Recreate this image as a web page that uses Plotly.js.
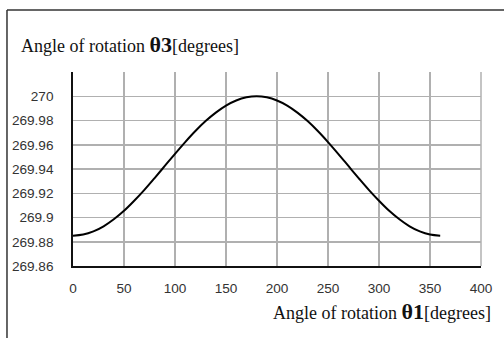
<!DOCTYPE html>
<html><head><meta charset="utf-8">
<script src="https://cdn.plot.ly/plotly-3.0.1.min.js"></script>
<style>html,body{margin:0;padding:0;background:#fff;}#chart{width:504px;height:338px;}</style>
</head><body><div id="chart"></div>
<script>
const theta1 = [0,10,20,30,40,50,60,70,80,90,100,110,120,130,140,150,160,170,180,190,200,210,220,230,240,250,260,270,280,290,300,310,320,330,340,350,360];
const theta3 = [269.885,269.8859,269.8885,269.8927,269.8985,269.9055,269.9138,269.9228,269.9325,269.9425,269.9525,269.9622,269.9713,269.9795,269.9865,269.9923,269.9965,269.9991,270.0,269.9991,269.9965,269.9923,269.9865,269.9795,269.9713,269.9622,269.9525,269.9425,269.9325,269.9228,269.9138,269.9055,269.8985,269.8927,269.8885,269.8859,269.885];
const xTicks = [0,50,100,150,200,250,300,350,400];
const yTicks = [269.86,269.88,269.9,269.92,269.94,269.96,269.98,270];
const yTickText = ["269.86","269.88","269.9","269.92","269.94","269.96","269.98","270"];

const tickFont = {family:'Arial, "Liberation Sans", sans-serif', size:13.6, color:'#333333'};
const serif = '"Times New Roman", "Liberation Serif", serif';

Plotly.newPlot('chart', [{
  x: theta1, y: theta3, type:'scatter', mode:'lines',
  line:{color:'#000', width:2, shape:'spline'}, hoverinfo:'none'
}], {
  width:504, height:338,
  margin:{l:73, r:23, t:72, b:72},
  paper_bgcolor:'#fff', plot_bgcolor:'#fff',
  showlegend:false,
  xaxis:{range:[0,400], tickvals:xTicks, showgrid:true, gridcolor:'#b0b0b0', gridwidth:1.5,
    showline:true, linecolor:'#111', linewidth:1.8, zeroline:false, ticks:'', tickfont:tickFont,
    ticklabelstandoff:9, fixedrange:true},
  yaxis:{range:[269.86,270.02], tickvals:yTicks, ticktext:yTickText, showgrid:true, gridcolor:'#b0b0b0', gridwidth:1.5,
    showline:true, linecolor:'#111', linewidth:1.8, zeroline:false, ticks:'', tickfont:tickFont,
    ticklabelstandoff:15, fixedrange:true},
  shapes:[
    {type:'line', xref:'paper', yref:'paper', x0:1, x1:1, y0:0, y1:1, line:{color:'#b0b0b0', width:1.5}},
    {type:'line', xref:'paper', yref:'paper', x0:-0.1618, x1:1.1, y0:1.3196, y1:1.3196, line:{color:'#333', width:1.5}},
    {type:'line', xref:'paper', yref:'paper', x0:-0.1618, x1:-0.1618, y0:1.3196, y1:-0.5, line:{color:'#333', width:1.5}}
  ],
  annotations:[
    {xref:'paper', yref:'paper', x:(19-73)/408, y:(266-44)/194, xanchor:'left', yanchor:'middle', showarrow:false,
     text:'Angle of rotation <b style="font-size:22px">θ3</b>[degrees]', font:{family:serif, size:18, color:'#111'}},
    {xref:'paper', yref:'paper', x:(493-73)/408, y:(266-311)/194, xanchor:'right', yanchor:'middle', showarrow:false,
     text:'Angle of rotation <b style="font-size:22px">θ1</b>[degrees]', font:{family:serif, size:18, color:'#111'}}
  ]
}, {staticPlot:true, displayModeBar:false});
</script></body></html>
